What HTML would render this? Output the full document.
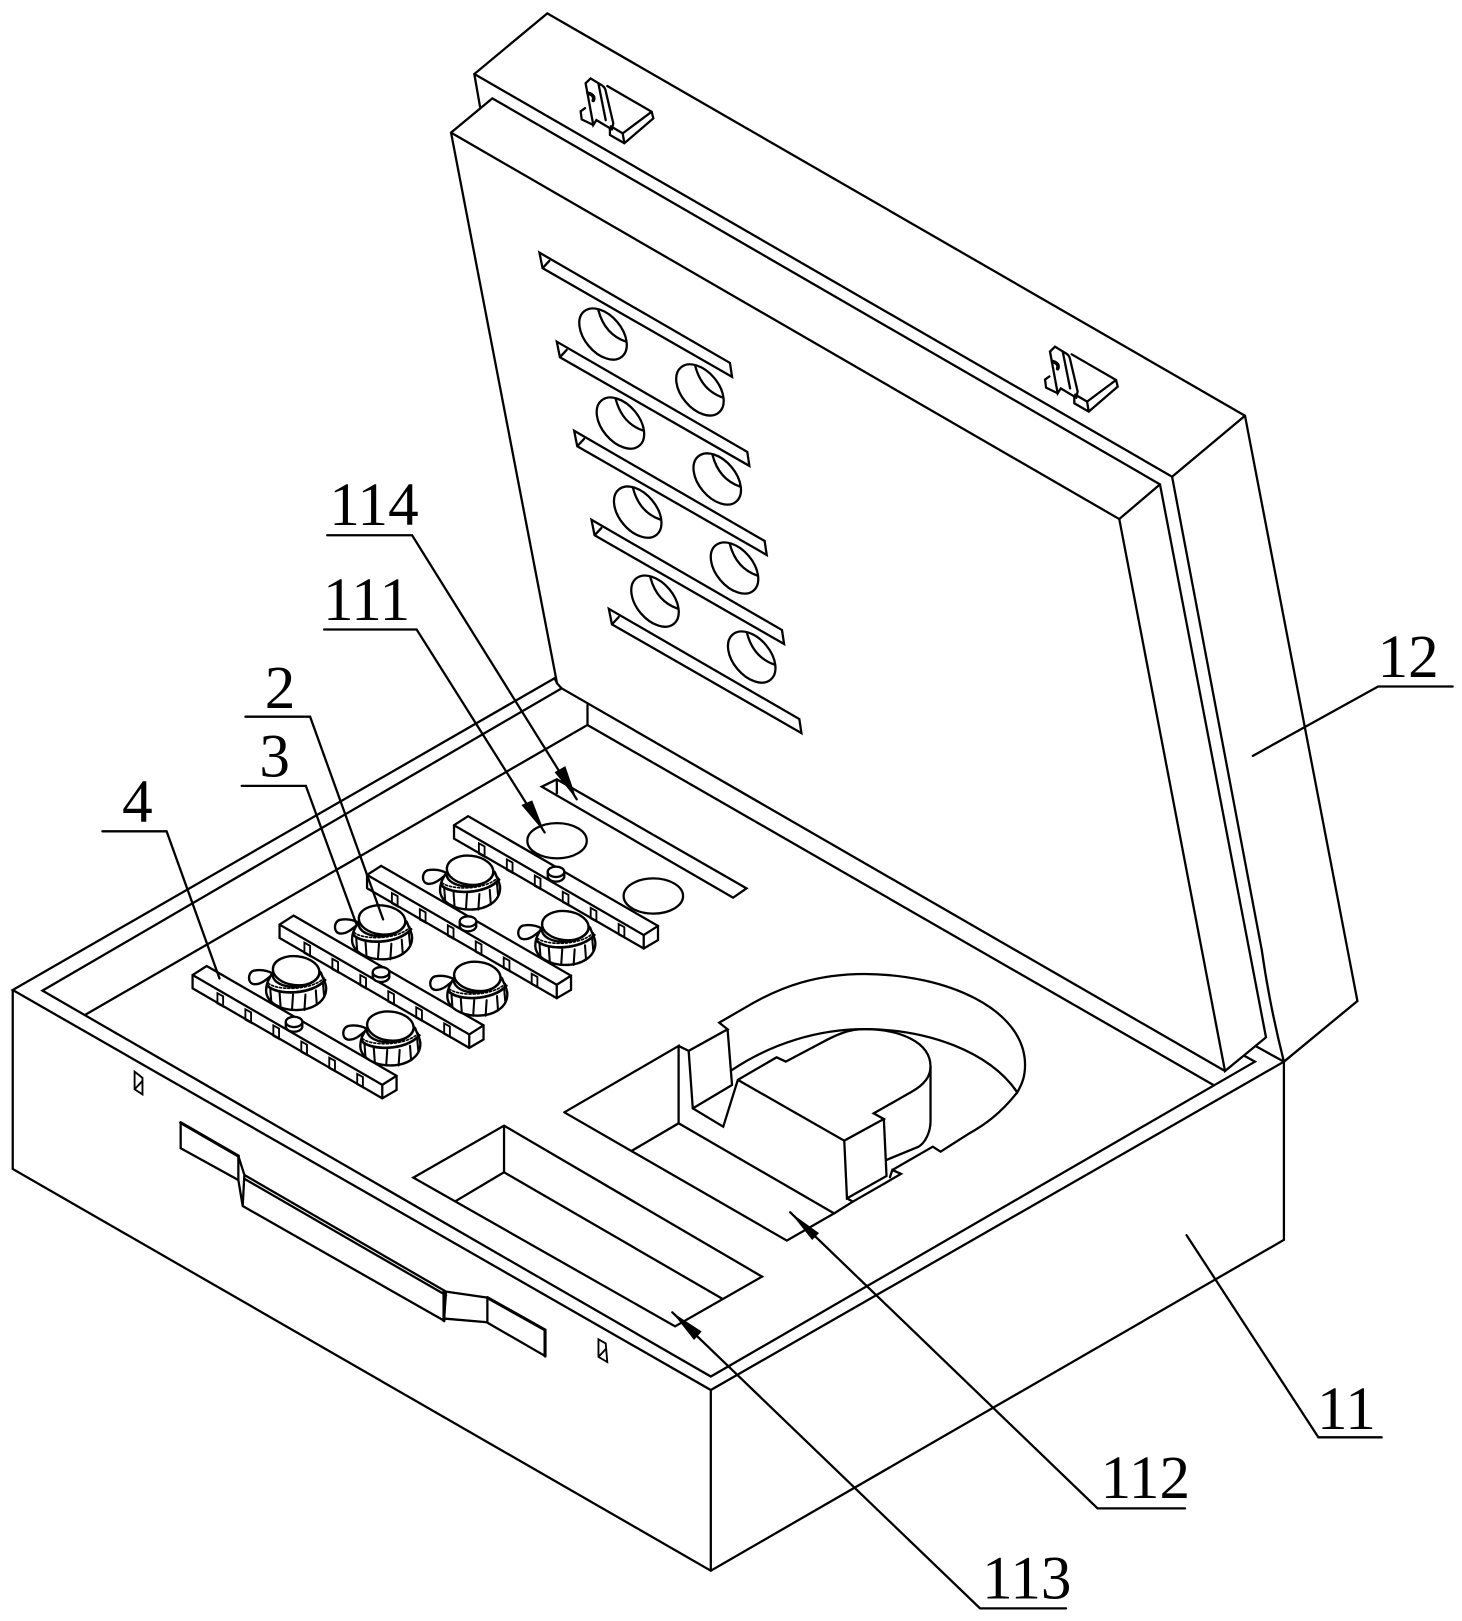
<!DOCTYPE html>
<html><head><meta charset="utf-8"><style>
html,body{margin:0;padding:0;background:#fff}
svg{display:block}
text{font-family:"Liberation Serif",serif;font-size:59px;fill:#000;stroke:none}
</style></head><body>
<svg xmlns="http://www.w3.org/2000/svg" width="1462" height="1621" viewBox="0 0 1412 1565.6" preserveAspectRatio="none">
<defs>
<g id="bar">
<path d="M0 0L13.6-8.7L197 97.3V111L183.2 119.1L0 12.9Z" fill="#fff"/>
<path d="M0 0L183.2 106.1L197 97.3M183.2 106.1V119.1"/>
<g id="slots" stroke-width="1.8">
<path d="M24 17.5l5.5 3v10l-5.5-3z"/><path d="M51 33.1l5.5 3v10l-5.5-3z"/><path d="M78 48.7l5.5 3v10l-5.5-3z"/><path d="M105 64.3l5.5 3v10l-5.5-3z"/><path d="M132 79.9l5.5 3v10l-5.5-3z"/><path d="M159 95.5l5.5 3v10l-5.5-3z"/>
</g>
</g>
<g id="knob">
<path d="M-22 3C-29-1-36-1-41 0C-47 2-47 12-41 13C-34 14-28 8-22 3Z" fill="#fff" stroke-width="2.3"/>
<path d="M-24 4C-26 8-29 12-29 19C-29 30-16 38 0 38C16 38 29 30 29 17C29 12 26 8 24 2C15-8-15-8-24 4Z" fill="#fff" stroke-width="2.3"/>
<path d="M-28 14C-20 24 15 24 28 9" fill="none" stroke-width="2.6"/>
<path d="M-27 12C-20 19 14 20 27 7" fill="none" stroke-width="1.6" stroke-dasharray="2 2"/>
<path d="M-25 17L-24 30M-16 21L-15 35M-3 23L-4 38M9 23L8 38M19 19L20 33M26 13L27 24" fill="none" stroke-width="2"/>
<ellipse cx="0" cy="0" rx="22.5" ry="14" transform="rotate(6)" fill="#fff" stroke-width="2.3"/>
<path d="M-23 3C-22 20 18 20 23 2" fill="none" stroke-width="2.3"/>
</g>
<g id="bump">
<path d="M-8-2V3C-6 9 6 9 8 3V-2" fill="#fff"/>
<ellipse cx="0" cy="-2" rx="8" ry="5" fill="#fff"/>
</g>
<g id="slot">
<path d="M521 244L705 350.5L707 364L524 259ZM524 259L530.5 252"/>
</g>
<g id="hole">
<ellipse cx="0" cy="0" rx="28.5" ry="18" transform="rotate(50)"/>
<path d="M-4.5-23Q1.6 .3 22.2 7.4"/>
</g>
<g id="latch" stroke-width="2.2">
<path d="M565 104.5L560.8 107.5L561.8 115.3L573 120.7"/>
<path d="M565.6 80.5L570.4 75.7L581.5 82.5Q584.5 84.5 585 88L592.3 119L591 125"/>
<path d="M565.6 80.5L573 120.7L576 116L591 125M578 81L585 116"/>
<path d="M568 90Q575 92 573 97" stroke-width="3.5"/>
<path d="M586.5 83.1L629.4 107.9L631 114.3L603 138.4L589.1 130.4L589 124M601.4 128.8L629.4 107.9M601.4 128.8L603 138.4M601.4 128.8L590 122"/>
</g>
</defs>
<rect width="1412" height="1566" fill="#fff"/>
<g fill="none" stroke="#000" stroke-width="2.2" stroke-linejoin="miter" stroke-linecap="round">
<!-- lid -->
<path d="M463.6 103L458.1 71.5L528.6 12.9L1202.4 401.5L1311 966.8L1240 1025.4"/>
<path d="M458.1 71.5L1132 460.4L1202.4 401.5"/>
<path d="M1132 460.4L1218.6 917.5Q1226 970 1240 1025.4"/>
<path d="M538 660L435.6 128.1L475.5 95L1120.3 467.8L1222.7 1001.9L1183.1 1034.4L1081 501.3L435.6 128.1"/>
<path d="M1120.3 467.8L1081 501.3"/>
<!-- lid slots and holes -->
<use href="#slot"/><use href="#slot" x="16.75" y="86"/><use href="#slot" x="33.5" y="172"/><use href="#slot" x="50.25" y="258"/><use href="#slot" x="67" y="344"/>
<use href="#hole" x="582.4" y="322.6"/><use href="#hole" x="599.2" y="408.6"/><use href="#hole" x="615.9" y="494.6"/><use href="#hole" x="632.6" y="580.6"/>
<use href="#hole" x="676" y="376.6"/><use href="#hole" x="692.7" y="462.6"/><use href="#hole" x="709.4" y="548.6"/><use href="#hole" x="726" y="634.6"/>
<!-- latches -->
<use href="#latch"/><use href="#latch" x="448.5" y="259.1"/>
<!-- box -->
<path d="M12.3 956.2V1129L686.5 1517L1240 1197.5V1025.4L686.5 1342.5L12.3 956.2L535.6 655.1L538 660L542.4 664.8L41 956.8L686.5 1329.5L1212 1025.4L1202.4 1020"/>
<path d="M686.5 1342.5V1517"/>
<path d="M542.4 664.8L1183.1 1034.4"/>
<path d="M82 980.3L567.4 700.2V680.9"/>
<path d="M567.4 700.2L1171.9 1047.9"/>
<path d="M1213.7 1010.9L1240 1025.4"/>
<!-- box holes -->
<path d="M130 1035L137.6 1041V1057L130 1052ZM130 1052L137.6 1044" stroke-width="1.8"/>
<path d="M578 1293.5L585 1297.5L586.5 1315.5L578 1310.5ZM578 1310.5L585 1303" stroke-width="1.8"/>
<!-- handle -->
<path d="M174.5 1084.3V1109L230.2 1139.7V1116.5L174.5 1084.3"/>
<path d="M174.5 1084.3L230.2 1116.5" stroke-width="3"/>
<path d="M230.2 1116.5L236 1134.8L234.4 1164.8L230.2 1139.7M234.4 1164.8L428.8 1275.5L430.8 1247.5L236 1134.8M236 1138.5L430.8 1251"/>
<path d="M428.8 1275.5V1247.5" stroke-width="3"/>
<path d="M430.8 1247.5L470.7 1253.3V1277.1L428.8 1273.5"/>
<path d="M470.7 1253.3L526.4 1284.5V1309.6L470 1277.1"/>
<path d="M470.7 1253.3L526.4 1284.5M526.4 1284.5V1309.6" stroke-width="3"/>
<!-- cavity 113 -->
<path d="M399.2 1137.4L486.8 1087.2L736 1233L652 1281ZM486.8 1087.2V1132.2L697 1254M486.8 1132.2L440.1 1160"/>
<!-- cavity 112 -->
<path d="M545 1074.3L655.4 1010.2V1084.9L610.4 1111.3M545 1074.3L759.9 1198.2L805.6 1171.9L655.4 1084.9"/>
<path d="M805.6 1171.9L823.6 1160.6L870.2 1133.8L861.8 1130L859.5 1137M861.8 1130L900.9 1107.5L908.4 1112.3L936.2 1094.6C950 1087 966 1076 982.5 1055"/>
<path d="M655.4 1010.2L665.1 1015L669.1 1070.5L698.5 1088.2L712.6 1043L750 1021.2L758.9 1025.3L792.5 1007.6C808 999 820 994 835 994C868 994 898.7 1006 898.7 1030.2C898.7 1040 892 1048 880.7 1054.3L843.8 1075.3L853.6 1080.7L815.4 1101.7L712.6 1043"/>
<path d="M665.1 1015L702.7 994.1L694.6 987.7L720 973C755 952 790 940.7 835 940.7C915 941 990 975 990 1028.6C990 1040 987 1047 982.5 1055C955 1015 895 994 835 994C790 994 745 1008 707 1033.4"/>
<path d="M702.7 994.1L707 1047.9L669.1 1070.5"/>
<path d="M898.7 1030.2V1081.7C899 1094 893 1104 887.2 1107.5L856.2 1120.3"/>
<path d="M815.4 1101.7L818 1157.4L856.2 1135.8L853.6 1080.7M818 1157.4L823.6 1160.6"/>
<!-- floor slot and circles -->
<path d="M523.3 759.8L537.8 752.7L721 858L708 867ZM537.8 752.7V766"/>
<ellipse cx="538" cy="812" rx="28.7" ry="17"/>
<ellipse cx="631" cy="865.4" rx="28.7" ry="17"/>
<!-- bars -->
<use href="#bar" x="186" y="941.7"/><use href="#bar" x="270" y="893"/><use href="#bar" x="354.5" y="845"/><use href="#bar" x="438.5" y="797"/>
<use href="#bump" x="284" y="989"/><use href="#bump" x="368" y="941"/><use href="#bump" x="452" y="892"/><use href="#bump" x="537" y="844"/>
<!-- knobs -->
<use href="#knob" x="286" y="937.5"/><use href="#knob" x="377" y="991"/><use href="#knob" x="369" y="888.5"/><use href="#knob" x="461" y="943"/><use href="#knob" x="454" y="840.5"/><use href="#knob" x="546" y="894"/>
<!-- leaders -->
<path d="M316 517H398L557 772"/>
<path d="M313 608H402.4L526 804"/>
<path d="M237 692.2H299.5L370 888"/>
<path d="M233.4 759H295.4L344 892"/>
<path d="M98.9 802.9H160.9L212 945"/>
<path d="M1403 663H1331L1210 730"/>
<path d="M1334.4 1388.2H1273.3L1146 1193"/>
<path d="M1144.5 1456.8H1060L763.2 1170.9"/>
<path d="M1029.6 1553.4H946.5L649.3 1267.5"/>
</g>
<g fill="#000" stroke="none">
<path d="M557 772L535.6 745.8L546 740Z"/>
<path d="M526 804L503.6 777.5L514 773Z"/>
<path d="M763.2 1170.9L791 1191L784.4 1197.6Z"/>
<path d="M649.3 1267.5L677.7 1286L670.3 1294.2Z"/>
</g>
<text x="318" y="507">114</text>
<text x="312" y="599">111</text>
<text x="255.7" y="684">2</text>
<text x="250.5" y="750">3</text>
<text x="118" y="794">4</text>
<text x="1330.5" y="654">12</text>
<text x="1272" y="1380">11</text>
<text x="1063" y="1447">112</text>
<text x="948.5" y="1544">113</text>
</svg>
</body></html>
